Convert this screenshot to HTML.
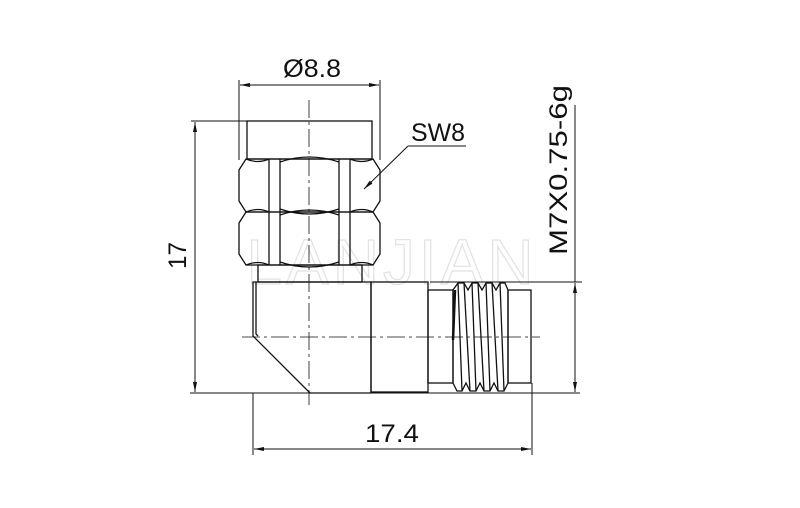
<!DOCTYPE html>
<html><head><meta charset="utf-8"><style>
html,body{margin:0;padding:0;background:#fff;}
svg{display:block;}
text{font-family:"Liberation Sans",sans-serif;fill:#111;}
</style></head><body>
<svg width="800" height="508" viewBox="0 0 800 508" xmlns="http://www.w3.org/2000/svg">
<defs>
<marker id="a" viewBox="0 0 10 4" refX="10" refY="2" markerWidth="10" markerHeight="4" orient="auto-start-reverse" markerUnits="userSpaceOnUse"><path d="M0,0 L10,2 L0,4 z" fill="#111"/></marker>
</defs>
<text x="392" y="284" font-size="64" text-anchor="middle" style="fill:none;stroke:#e2e2e2;stroke-width:1.2" letter-spacing="4">LANJIAN</text>

<g stroke="#111" stroke-width="1" fill="none">
<line x1="239" y1="80" x2="239" y2="160"/>
<line x1="380" y1="80" x2="380" y2="160"/>
<line x1="240" y1="85" x2="379" y2="85" marker-start="url(#a)" marker-end="url(#a)"/>
<line x1="191" y1="121" x2="247" y2="121"/>
<line x1="190" y1="393" x2="580" y2="393"/>
<line x1="195" y1="122" x2="195" y2="392" marker-start="url(#a)" marker-end="url(#a)"/>
<line x1="430" y1="282" x2="582" y2="282"/>
<line x1="575" y1="105" x2="575" y2="282"/>
<line x1="575" y1="283" x2="575" y2="392" marker-start="url(#a)" marker-end="url(#a)"/>
<line x1="253" y1="393" x2="253" y2="455"/>
<line x1="532" y1="383" x2="532" y2="455"/>
<line x1="254" y1="449" x2="531" y2="449" marker-start="url(#a)" marker-end="url(#a)"/>
<line x1="408" y1="146" x2="466" y2="146"/>
<line x1="408" y1="146" x2="364" y2="189" marker-end="url(#a)"/>
</g>

<g stroke="#111" stroke-width="1.3" fill="none">
<rect x="247" y="121" width="125" height="38"/>
<path d="M246,159 H373 L380,170 V201 L373,212 H246 L239,201 V170 Z"/>
<path d="M269,159 V212 M280,159 V212 M339,159 V212 M350,159 V212"/>
<path d="M280,162 Q309,152 339,162 M280,209 Q309,219 339,209"/>
<path d="M269,159 Q258,164 246,159 M350,159 Q362,164 373,159 M269,212 Q258,207 246,212 M350,212 Q362,207 373,212"/>
<path d="M246,212 H373 L380,223 V254 L373,265 H246 L239,254 V223 Z"/>
<path d="M269,212 V265 M280,212 V265 M339,212 V265 M350,212 V265"/>
<path d="M280,215 Q309,205 339,215 M280,262 Q309,272 339,262"/>
<path d="M269,265 Q258,260 246,265 M350,265 Q362,260 373,265"/>
<rect x="258" y="265" width="104" height="17"/>
<path d="M253,282 H371 V393 H310 L253,336 Z"/>
<path d="M256,282 V334 L258,336"/>
<rect x="371" y="282" width="57" height="110"/>
<rect x="428" y="290" width="25" height="93"/>
<path d="M453,290 L458,283 L464,283 L468,290 L472,283 L478,283 L482,290 L486,283 L492,283 L496,290 L500,283 L505,283 L508,290 V383 L504,391 L498,391 L494,383 L490,391 L484,391 L480,383 L476,391 L470,391 L466,383 L462,391 L457,391 L453,383 Z"/>
<path d="M458,283 L462,391 M464,283 L470,391 M472,283 L476,391 M478,283 L484,391 M486,283 L490,391 M492,283 L498,391 M500,283 L504,391"/>
<path d="M455,290 L453,340" stroke-width="2.5"/>
<rect x="508" y="290" width="23" height="93"/>
</g>
<g stroke="#111" stroke-width="0.8" stroke-dasharray="18,4,3,4" fill="none">
<line x1="309" y1="100" x2="309" y2="405"/>
<line x1="242" y1="337" x2="540" y2="337"/>
</g>

<text x="283" y="77" font-size="25" textLength="58" lengthAdjust="spacingAndGlyphs">Ø8.8</text>
<text x="411" y="141" font-size="25" textLength="54" lengthAdjust="spacingAndGlyphs">SW8</text>
<text x="365" y="442" font-size="25" textLength="54" lengthAdjust="spacingAndGlyphs">17.4</text>
<text transform="translate(186,269) rotate(-90)" font-size="25" textLength="27" lengthAdjust="spacingAndGlyphs">17</text>
<text transform="translate(567,255) rotate(-90)" font-size="25" textLength="170" lengthAdjust="spacingAndGlyphs">M7X0.75-6g</text>
</svg>
</body></html>
